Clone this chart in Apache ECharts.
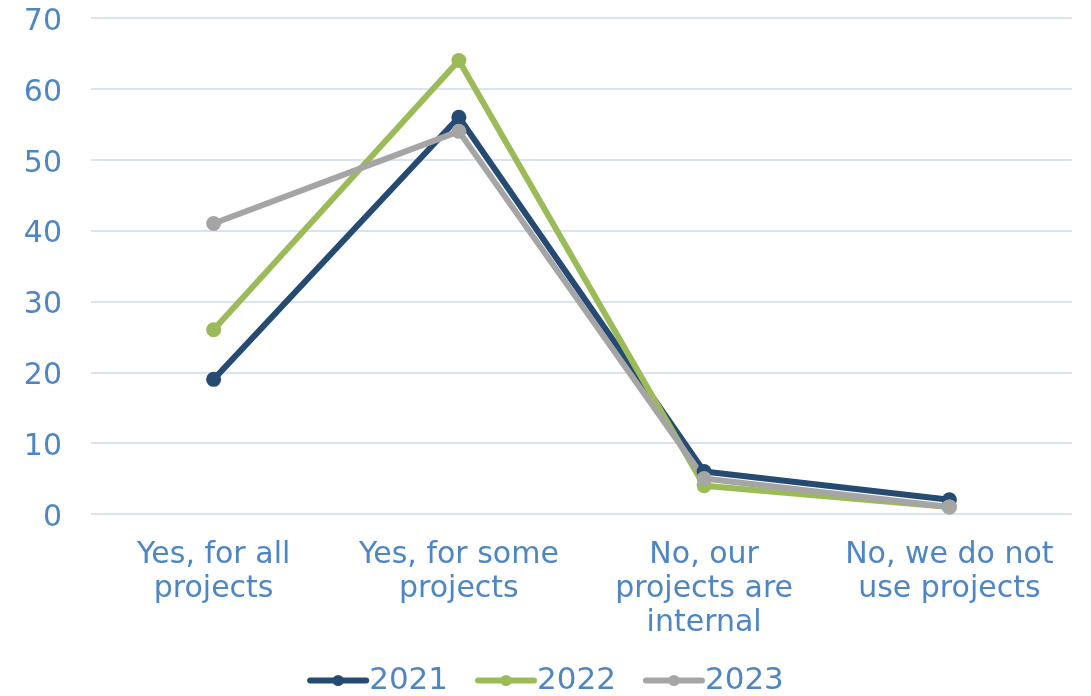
<!DOCTYPE html>
<html><head><meta charset="utf-8">
<script src="https://cdn.jsdelivr.net/npm/echarts@6/dist/echarts.min.js"></script>
<style>html,body{margin:0;padding:0;background:#fff}#c{width:1091px;height:696px}</style>
</head><body><div id="c"></div>
<script>
const categories = ["Yes, for all\nprojects", "Yes, for some\nprojects", "No, our\nprojects are\ninternal", "No, we do not\nuse projects"];
const seriesNames = ["2021", "2022", "2023"];
const values2021 = [19, 56, 6, 2];
const values2022 = [26, 64, 4, 1];
const values2023 = [41, 54, 5, 1];
const colors = ["#264b73", "#9bbb59", "#a5a5a5"];
const FONT = "DejaVu Sans";
const labelColor = "#4e86c4";

const chart = echarts.init(document.getElementById('c'));
const data = [values2021, values2022, values2023];
chart.setOption({
  animation: false,
  textStyle: {fontFamily: FONT},
  grid: {left: 91, right: 19, top: 18, bottom: 182},
  legend: {
    bottom: -5, left: 'center', itemWidth: 56, itemHeight: 14, itemGap: 27,
    lineStyle: {width: 6, cap: 'round'},
    textStyle: {color: labelColor, fontSize: 31, fontFamily: FONT, padding: [0, 0, 0, -2]},
    data: seriesNames
  },
  xAxis: {
    type: 'category', data: categories, boundaryGap: true,
    axisLine: {show: false}, axisTick: {show: false},
    axisLabel: {color: labelColor, fontSize: 30, lineHeight: 34, margin: 24, interval: 0, fontFamily: FONT}
  },
  yAxis: {
    type: 'value', min: 0, max: 70, interval: 10,
    axisLine: {show: false}, axisTick: {show: false},
    axisLabel: {
      color: labelColor, fontSize: 30, margin: 29, fontFamily: FONT,
      formatter: '{a|{value}}',
      rich: {a: {color: labelColor, fontSize: 30, fontFamily: FONT, padding: [8, 0, 0, 0]}}
    },
    splitLine: {lineStyle: {color: '#dae4f1', width: 2}}
  },
  series: seriesNames.map((n, i) => ({
    name: n, type: 'line', data: data[i], color: colors[i],
    symbol: 'circle', symbolSize: 15,
    lineStyle: {width: 6, color: colors[i]},
    itemStyle: {color: colors[i]}
  }))
});
</script></body></html>
